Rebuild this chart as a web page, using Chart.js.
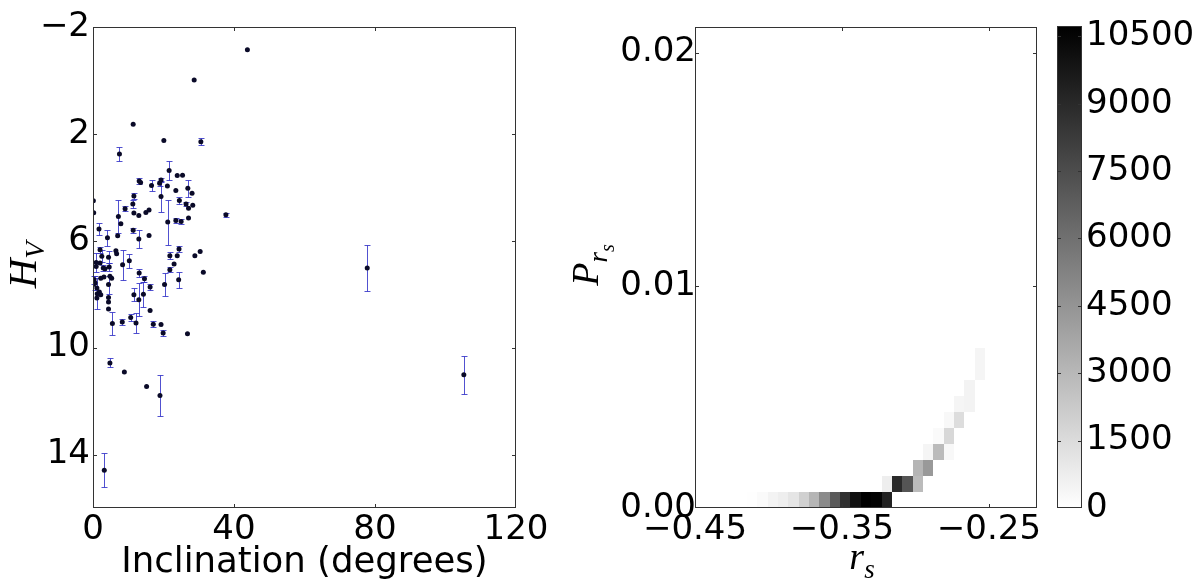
<!DOCTYPE html>
<html>
<head>
<meta charset="utf-8">
<script src="https://cdn.jsdelivr.net/npm/chart.js@4.4.1/dist/chart.umd.min.js"></script>
<style>
  body { margin: 0; background: #fff; }
  #wrap { position: relative; width: 1200px; height: 586px; }
  canvas { position: absolute; top: 0; }
</style>
</head>
<body>
<div id="wrap">
  <canvas id="left" width="560" height="586" style="left:0px"></canvas>
  <canvas id="heat" width="490" height="586" style="left:560px"></canvas>
  <canvas id="cbar" width="150" height="586" style="left:1050px"></canvas>
</div>
<script>
// left panel: H_V against inclination, with errors on H_V (0 = no bar)
const inclination = [43.8, 28.7, 11.4, 20.1, 30.6, 7.5, 21.6, 13.1, 13.5, 23.9,
  25.4, 16.6, 18.9, 19.3, 21.1, 26.9, 19.3, 28.1, 24.5, 23.5,
  26.4, 27.1, 28.3, 27.1, 37.7, 11.6, 11.3, 9.1, 11.6, 13.0,
  15.0, 15.9, 0.1, 0.2, 7.2, 7.9, 1.7, 7.0, 11.4, 13.0,
  15.9, 21.2, 23.5, 25.0, 4.1, 6.5, 6.7, 8.4, 10.3, 13.1,
  14.6, 21.8, 23.9, 24.4, 28.9, 30.4, 23.0, 21.8, 24.3, 31.3,
  20.3, 16.2, 11.6, 13.0, 14.3, 16.2, 0.3, 0.1, 0.9, 2.0,
  0.9, 2.5, 2.0, 2.9, 3.4, 2.2, 3.1, 4.6, 4.4, 4.8,
  5.3, 0.6, 1.1, 1.2, 1.8, 2.2, 1.1, 4.4, 4.4, 4.4,
  4.4, 5.5, 8.3, 10.7, 12.2, 17.1, 19.3, 19.9, 26.8, 4.8,
  8.9, 15.2, 19.0, 3.2, 77.8, 105.2];
const hv = [-1.15, -0.02, 1.64, 2.25, 2.29, 2.75, 3.37, 3.76, 3.82, 3.56,
  3.55, 3.93, 3.85, 3.73, 3.95, 4.03, 4.34, 4.22, 4.49, 4.12,
  4.62, 4.78, 4.67, 5.15, 5.03, 4.32, 4.62, 4.80, 4.96, 5.05,
  4.94, 4.85, 4.50, 4.95, 5.09, 5.36, 5.56, 5.81, 5.61, 5.93,
  5.80, 5.30, 5.24, 5.28, 5.89, 6.37, 6.49, 6.90, 6.75, 7.21,
  7.42, 6.56, 6.56, 6.31, 6.56, 6.40, 6.87, 7.08, 7.46, 7.18,
  7.64, 7.73, 8.02, 8.21, 8.00, 8.61, 7.46, 7.64, 6.81, 6.83,
  6.96, 6.58, 6.34, 7.02, 7.05, 7.40, 7.36, 6.98, 6.62, 7.33,
  7.40, 7.58, 7.77, 7.98, 7.92, 8.02, 8.14, 7.64, 8.12, 8.29,
  8.55, 9.10, 9.04, 8.87, 9.08, 9.12, 9.13, 9.45, 9.48, 10.57,
  10.91, 11.45, 11.79, 14.59, 7.02, 11.01];
const hvErr = [0, 0, 0, 0, 0.13, 0.26, 0.36, 0.10, 0, 0,
  0, 0.19, 0.10, 0.08, 0, 0.32, 0.57, 0, 0.12, 0,
  0.08, 0, 0, 0, 0.08, 0.10, 0.15, 0.10, 0, 0,
  0, 0, 0, 0, 0.62, 0, 0.22, 0, 0.10, 0.34,
  0, 0.84, 0.10, 0.08, 0.30, 0, 0, 0.56, 0.25, 0.16,
  0.12, 0.14, 0, 0.12, 0, 0, 0, 0.10, 0.31, 0,
  0.44, 0.12, 0.25, 0.62, 0.47, 0, 0.15, 0, 0.34, 0,
  0, 0.22, 0.12, 0.10, 0, 0, 0, 0.14, 0.22, 0,
  0, 0.25, 0, 0.59, 0, 0, 0, 0.34, 0, 0,
  0, 0.42, 0.10, 0.12, 0.38, 0.10, 0, 0.10, 0, 0.17,
  0, 0, 0.78, 0.63, 0.86, 0.71];
const inclTicks = [0, 40, 80, 120];
const hvTicks = [-2, 2, 6, 10, 14];

// right panel: 2d histogram of (r_s, P_rs); column / row bin index and count
const rsMin = -0.45, rsMax = -0.2173;
const pMin = 0.00046, pMax = 0.0211;
const rsBins = 33, pBins = 30;
const heatCol = [5, 6, 7, 8, 9, 10, 11, 12, 13, 14, 15, 16, 17, 18,
  18, 19, 20, 21,
  21, 22,
  22, 23, 24,
  23, 24,
  24, 25,
  25, 26,
  26,
  27,
  27];
const heatRow = [0, 0, 0, 0, 0, 0, 0, 0, 0, 0, 0, 0, 0, 0,
  1, 1, 1, 1,
  2, 2,
  3, 3, 3,
  4, 4,
  5, 5,
  6, 6,
  7,
  8,
  9];
const heatCount = [60, 210, 505, 715, 1094, 1978, 3114, 4924, 6943, 8710, 10057, 10730, 10600, 9300,
  715, 8960, 7150, 2860,
  3114, 4290,
  420, 2860, 300,
  200, 1640,
  300, 1430,
  420, 505,
  505,
  420,
  420];
const rsTicks = [-0.45, -0.35, -0.25];
const pTicks = [pMin, 0.01, 0.02];
const cbarMax = 10730;
const cbarTicks = [0, 1500, 3000, 4500, 6000, 7500, 9000, 10500];

const FONT = 'DejaVu Sans';
const tickFont = { size: 34, family: FONT };
const minus = v => (v < 0 ? '\u2212' : '') + Math.abs(v);

function grayFor(v) {
  const g = Math.round(255 * (1 - Math.min(v / cbarMax, 1)));
  return `rgb(${g},${g},${g})`;
}

function drawMath(ctx, parts, cx, cy, rot) {
  ctx.save();
  ctx.translate(cx, cy);
  ctx.rotate(rot);
  ctx.fillStyle = '#000';
  ctx.textBaseline = 'alphabetic';
  let total = 0;
  parts.forEach(p => {
    ctx.font = `italic ${p.size}px "Liberation Serif"`;
    p.w = ctx.measureText(p.t).width;
    total += p.w + (p.gap || 0);
  });
  let xx = -total / 2;
  const base = parts[0].size * 0.33;
  parts.forEach(p => {
    ctx.font = `italic ${p.size}px "Liberation Serif"`;
    ctx.fillText(p.t, xx, base + p.dy);
    xx += p.w + (p.gap || 0);
  });
  ctx.restore();
}

// box round the plot area and little ticks pointing inwards on all sides
const frame = {
  id: 'frame',
  afterDraw(chart) {
    const { ctx, chartArea: a, scales } = chart;
    ctx.save();
    ctx.strokeStyle = '#333';
    ctx.lineWidth = 1;
    ctx.strokeRect(a.left + 0.5, a.top + 0.5, a.right - a.left - 1, a.bottom - a.top - 1);
    ctx.beginPath();
    if (scales.x && scales.x.options.display !== false) {
      scales.x.ticks.forEach(t => {
        const px = Math.round(scales.x.getPixelForValue(t.value)) + 0.5;
        if (px < a.left + 2 || px > a.right - 2) return;
        ctx.moveTo(px, a.bottom); ctx.lineTo(px, a.bottom - 4);
        ctx.moveTo(px, a.top); ctx.lineTo(px, a.top + 4);
      });
    }
    if (scales.y) {
      scales.y.ticks.forEach(t => {
        const py = Math.round(scales.y.getPixelForValue(t.value)) + 0.5;
        if (py < a.top + 2 || py > a.bottom - 2) return;
        ctx.moveTo(a.left, py); ctx.lineTo(a.left + 4, py);
        ctx.moveTo(a.right, py); ctx.lineTo(a.right - 4, py);
      });
    }
    ctx.stroke();
    ctx.restore();
  }
};

const errorBars = {
  id: 'errorBars',
  beforeDatasetsDraw(chart) {
    const { ctx, scales: { x, y } } = chart;
    ctx.save();
    ctx.strokeStyle = 'rgba(50,50,200,0.85)';
    ctx.lineWidth = 1;
    ctx.beginPath();
    inclination.forEach((v, i) => {
      const e = hvErr[i];
      if (!e) return;
      const px = Math.round(x.getPixelForValue(v)) + 0.5;
      const y0 = Math.round(y.getPixelForValue(hv[i] - e)) + 0.5;
      const y1 = Math.round(y.getPixelForValue(hv[i] + e)) + 0.5;
      ctx.moveTo(px, y0); ctx.lineTo(px, y1);
      ctx.moveTo(px - 3, y0); ctx.lineTo(px + 3, y0);
      ctx.moveTo(px - 3, y1); ctx.lineTo(px + 3, y1);
    });
    ctx.stroke();
    ctx.restore();
  }
};

const hvTitle = {
  id: 'hvTitle',
  afterDraw(chart) {
    drawMath(chart.ctx, [{ t: 'H', size: 41, dy: 0 }, { t: 'V', size: 28, dy: 8 }], 22, 265, -Math.PI / 2);
  }
};

new Chart(document.getElementById('left'), {
  type: 'scatter',
  data: {
    datasets: [{
      data: inclination.map((v, i) => ({ x: v, y: hv[i] })),
      backgroundColor: '#0a0a28',
      borderColor: '#0a0a28',
      borderWidth: 0,
      pointRadius: 2.5,
      pointHoverRadius: 2.5
    }]
  },
  options: {
    responsive: false,
    animation: false,
    events: [],
    layout: { padding: { left: 0, top: 27, right: 44, bottom: 0 } },
    plugins: { legend: { display: false }, tooltip: { enabled: false } },
    scales: {
      x: {
        type: 'linear', min: 0, max: 120,
        afterBuildTicks: s => { s.ticks = inclTicks.map(v => ({ value: v })); },
        afterFit: s => { s.height = 78; },
        grid: { display: false, drawTicks: false },
        border: { display: false },
        ticks: { color: '#000', font: tickFont, padding: 2, maxRotation: 0 },
        title: { display: true, text: 'Inclination (degrees)', color: '#000', font: { size: 35.5, family: FONT }, padding: { top: 0, bottom: 2 } }
      },
      y: {
        type: 'linear', min: -2, max: 16, reverse: true,
        afterBuildTicks: s => { s.ticks = hvTicks.map(v => ({ value: v })); },
        afterFit: s => { s.width = 93; },
        grid: { display: false, drawTicks: false },
        border: { display: false },
        ticks: { color: '#000', font: tickFont, padding: 3, callback: v => minus(v) }
      }
    }
  },
  plugins: [errorBars, frame, hvTitle]
});

const heatCells = {
  id: 'heatCells',
  beforeDatasetsDraw(chart) {
    const { ctx, chartArea: a, scales: { x, y } } = chart;
    const dx = (rsMax - rsMin) / rsBins, dy = (pMax - pMin) / pBins;
    ctx.save();
    ctx.beginPath();
    ctx.rect(a.left, a.top, a.right - a.left, a.bottom - a.top);
    ctx.clip();
    heatCount.forEach((c, i) => {
      const x0 = x.getPixelForValue(rsMin + heatCol[i] * dx);
      const x1 = x.getPixelForValue(rsMin + (heatCol[i] + 1) * dx);
      const y0 = y.getPixelForValue(pMin + heatRow[i] * dy);
      const y1 = y.getPixelForValue(pMin + (heatRow[i] + 1) * dy);
      ctx.fillStyle = grayFor(c);
      ctx.fillRect(Math.round(x0), Math.round(y1), Math.round(x1) - Math.round(x0), Math.round(y0) - Math.round(y1));
    });
    ctx.restore();
  },
  afterDraw(chart) {
    drawMath(chart.ctx, [{ t: 'P', size: 38, dy: 0 }, { t: 'r', size: 27, dy: 9 }, { t: 's', size: 20, dy: 16 }], 25, 265, -Math.PI / 2);
    drawMath(chart.ctx, [{ t: 'r', size: 38, dy: 0 }, { t: 's', size: 27, dy: 9 }], 302, 556, 0);
  }
};

const dxBin = (rsMax - rsMin) / rsBins, dyBin = (pMax - pMin) / pBins;
new Chart(document.getElementById('heat'), {
  type: 'scatter',
  data: {
    datasets: [{
      data: heatCount.map((c, i) => ({ x: rsMin + (heatCol[i] + 0.5) * dxBin, y: pMin + (heatRow[i] + 0.5) * dyBin })),
      pointRadius: 0,
      pointHoverRadius: 0
    }]
  },
  options: {
    responsive: false,
    animation: false,
    events: [],
    layout: { padding: { left: 0, top: 27, right: 13, bottom: 0 } },
    plugins: { legend: { display: false }, tooltip: { enabled: false } },
    scales: {
      x: {
        type: 'linear', min: rsMin, max: rsMax,
        afterBuildTicks: s => { s.ticks = rsTicks.map(v => ({ value: v })); },
        afterFit: s => { s.height = 78; },
        grid: { display: false, drawTicks: false },
        border: { display: false },
        ticks: { color: '#000', font: tickFont, padding: 2, maxRotation: 0, callback: v => (v < 0 ? '\u2212' : '') + Math.abs(v).toFixed(2) }
      },
      y: {
        type: 'linear', min: pMin, max: pMax,
        afterBuildTicks: s => { s.ticks = pTicks.map(v => ({ value: v })); },
        afterFit: s => { s.width = 135; },
        grid: { display: false, drawTicks: false },
        border: { display: false },
        ticks: { color: '#000', font: tickFont, padding: -1, callback: v => v.toFixed(2) }
      }
    }
  },
  plugins: [heatCells, frame]
});

const cbarFill = {
  id: 'cbarFill',
  beforeDatasetsDraw(chart) {
    const { ctx, chartArea: a, scales: { y } } = chart;
    const g = ctx.createLinearGradient(0, y.getPixelForValue(0), 0, y.getPixelForValue(cbarMax));
    g.addColorStop(0, '#ffffff');
    g.addColorStop(1, '#000000');
    ctx.save();
    ctx.fillStyle = g;
    ctx.fillRect(a.left, a.top, a.right - a.left, a.bottom - a.top);
    ctx.restore();
  }
};

new Chart(document.getElementById('cbar'), {
  type: 'scatter',
  data: { datasets: [{ data: [], pointRadius: 0 }] },
  options: {
    responsive: false,
    animation: false,
    events: [],
    layout: { padding: { left: 7, top: 26, right: 0, bottom: 78 } },
    plugins: { legend: { display: false }, tooltip: { enabled: false } },
    scales: {
      x: { type: 'linear', display: false, min: 0, max: 1 },
      y: {
        type: 'linear', position: 'right', min: 0, max: cbarMax,
        afterBuildTicks: s => { s.ticks = cbarTicks.map(v => ({ value: v })); },
        afterFit: s => { s.width = 118; },
        grid: { display: false, drawTicks: false },
        border: { display: false },
        ticks: { color: '#000', font: tickFont, padding: 4, callback: v => String(v) }
      }
    }
  },
  plugins: [cbarFill, frame]
});
</script>
</body>
</html>
